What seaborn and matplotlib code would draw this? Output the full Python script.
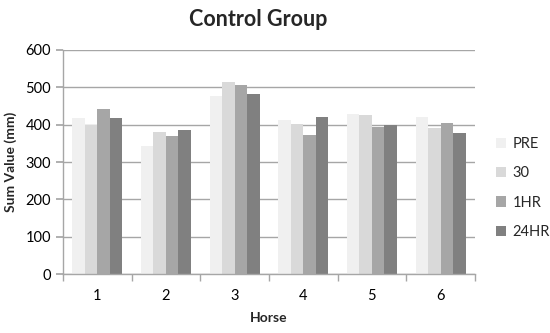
import matplotlib
matplotlib.use("Agg")
import matplotlib.pyplot as plt
import seaborn as sns
import pandas as pd
import numpy as np

horses = ["1", "2", "3", "4", "5", "6"]
series = ["PRE", "30", "1HR", "24HR"]
pre = [419, 344, 477, 412, 429, 421]
m30 = [399, 380, 515, 401, 427, 392]
hr1 = [442, 369, 507, 371, 395, 404]
hr24 = [417, 387, 481, 421, 399, 377]
colors = ["#f0f0f0", "#d9d9d9", "#a6a6a6", "#808080"]

rows = []
for s, vals in zip(series, [pre, m30, hr1, hr24]):
    for h, v in zip(horses, vals):
        rows.append({"Horse": h, "Series": s, "Value": v})
df = pd.DataFrame(rows)

sns.set_theme(style="white")
plt.rcParams['font.family'] = ['Lato', 'DejaVu Sans']

fig = plt.figure(figsize=(5.5, 3.33), dpi=100)
ax = fig.add_axes([0.1145, 0.177, 0.749, 0.673])
sns.barplot(data=df, x="Horse", y="Value", hue="Series", order=horses,
            hue_order=series, palette=colors, width=0.73, saturation=1,
            linewidth=0, ax=ax, legend=True)

ax.set_ylim(0, 600)
ax.set_xlim(-0.5, 5.5)
ax.set_yticks(np.arange(0, 601, 100))
ax.yaxis.grid(True, color="#a6a6a6", linewidth=1)
ax.set_axisbelow(True)
for sp in ["top", "right"]:
    ax.spines[sp].set_visible(False)
for sp in ["left", "bottom"]:
    ax.spines[sp].set_color("#a6a6a6")
    ax.spines[sp].set_linewidth(1)

ax.set_xticks(range(6))
ax.set_xticklabels(horses)
ax.set_xticks(np.arange(-0.5, 6.0, 1.0), minor=True)
ax.tick_params(axis="x", which="major", length=0, labelsize=10.5, pad=11, colors="#000000")
ax.tick_params(axis="x", which="minor", length=5, color="#a6a6a6", direction="out", bottom=True)
ax.tick_params(axis="y", which="major", length=5, color="#a6a6a6", direction="out", left=True, labelsize=10.5, colors="#000000")

ax.set_xlabel("Horse", fontsize=10, fontweight="bold", labelpad=6)
ax.set_ylabel("Sum Value (mm)", fontsize=10, fontweight="bold", labelpad=6)
fig.text(0.47, 0.94, "Control Group", fontsize=15.5, fontweight="bold",
         ha="center", va="center")

leg = ax.legend(loc="center left", bbox_to_anchor=(1.02, 0.384), frameon=False,
                fontsize=10.5, handlelength=0.7, handleheight=0.7,
                labelspacing=1.05, handletextpad=0.4)

fig.savefig("out.png", dpi=100)
